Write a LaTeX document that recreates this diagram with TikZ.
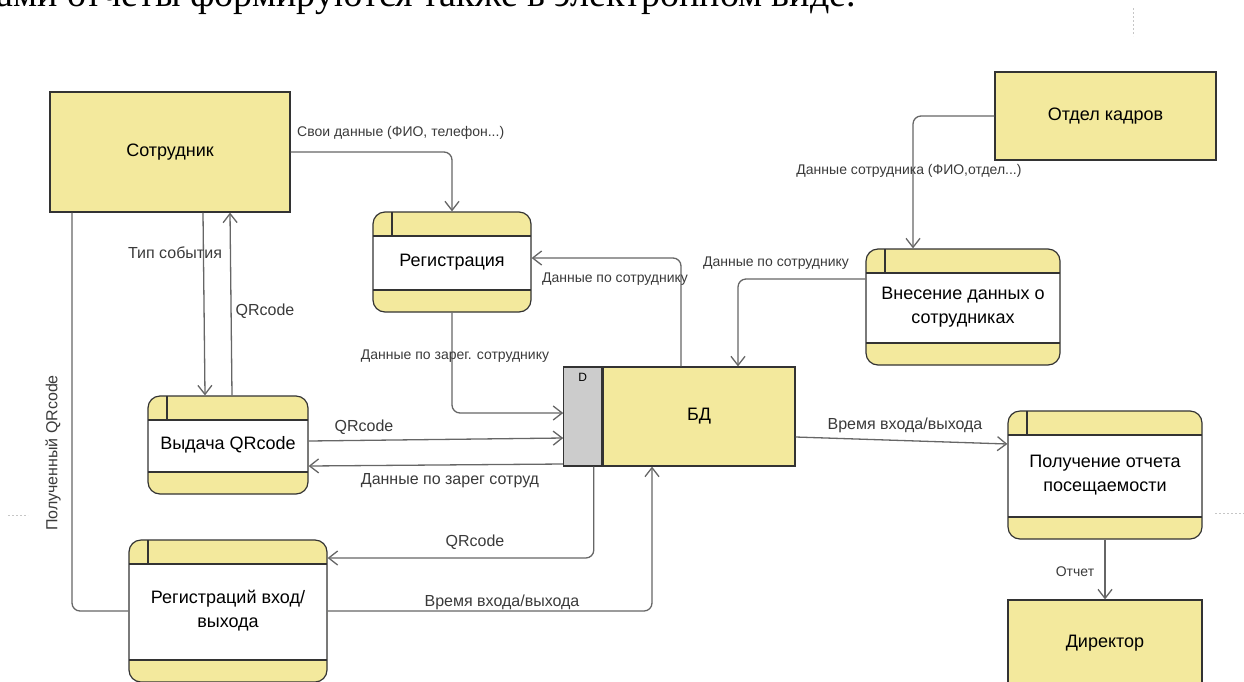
\documentclass[tikz,border=0pt]{standalone}
\usepackage{fontspec}
\setmainfont{Liberation Sans}
\newfontfamily\docserif{Liberation Serif}
\usepackage{tikz}
\usetikzlibrary{arrows.meta,positioning}
\definecolor{dfdfill}{HTML}{F3E99D}
\definecolor{dfdline}{HTML}{333333}
\definecolor{flowline}{HTML}{666666}
\definecolor{flowtext}{HTML}{3A3A3A}
\definecolor{storegray}{HTML}{CCCCCC}

\begin{document}
\begin{tikzpicture}[x=1pt, y=-1pt,
      entity/.style={draw=dfdline, fill=dfdfill, line width=1.2pt, inner sep=0pt, font=\fontsize{18}{24}\selectfont},
      proc/.style={draw=dfdline, fill=dfdfill, line width=1.2pt, rounded corners=12pt, inner sep=0pt, align=center, font=\fontsize{18}{24}\selectfont,
        path picture={
          \fill[white, sharp corners] ([yshift=-24pt]path picture bounding box.north west) rectangle ([yshift=22pt]path picture bounding box.south east);
          \draw[dfdline, line width=1.2pt, sharp corners] ([yshift=-24pt]path picture bounding box.north west) -- ([yshift=-24pt]path picture bounding box.north east)
            ([yshift=22pt]path picture bounding box.south west) -- ([yshift=22pt]path picture bounding box.south east)
            ([xshift=19pt]path picture bounding box.north west) -- ([xshift=19pt,yshift=-24pt]path picture bounding box.north west);
        }},
      arr/.style={flowline, line width=1.3pt, -{Straight Barb[length=9pt,width=14pt]}, rounded corners=8pt},
      flow/.style={flowline, line width=1.3pt, rounded corners=8pt},
      lbl/.style={text=flowtext, inner sep=0pt, font=\fontsize{14}{16}\selectfont},
      lblm/.style={lbl, font=\fontsize{16}{19}\selectfont},
      pagemark/.style={gray!45, line width=0.8pt, dash pattern=on 2pt off 2pt},
    ]
    \useasboundingbox (0,0) rectangle (1244,681);
    \node[font=\docserif\fontsize{38}{44}\selectfont, anchor=base east, inner sep=0pt] (topline) at (856,6) {ами отчеты формируются также в электронном виде.};
    \draw[pagemark] (1133,8) -- (1133,36);
    \draw[pagemark] (8,515) -- (28,515);
    \draw[pagemark] (1215,513) -- (1244,513);

    \node[entity, minimum width=240pt, minimum height=120pt] (sotr) at (170,152) {Сотрудник};
    \node[entity, minimum width=221pt, minimum height=88pt] (otd) at (1105.5,116) {Отдел кадров};
    \node[entity, minimum width=194pt, minimum height=86pt] (dir) at (1105,643) {Директор};
    \node[proc, minimum width=158pt, minimum height=100pt] (reg) at (452,262) {Регистрация};
    \node[proc, minimum width=194pt, minimum height=116pt] (vnes) at (963,307) {Внесение данных о\\сотрудниках};
    \node[proc, minimum width=160pt, minimum height=98pt] (vyd) at (228,445) {Выдача QRcode};
    \node[proc, minimum width=194pt, minimum height=128pt] (pol) at (1105,475) {Получение отчета\\посещаемости};
    \node[proc, minimum width=198pt, minimum height=142pt] (regvh) at (228,611) {Регистраций вход/\\выхода};
    \node[entity, minimum width=192pt, minimum height=99pt] (bd) at (699,416.5) {БД};
    \node[entity, fill=storegray, minimum width=38pt, minimum height=99pt, left=0pt of bd] (bdtag) {};
    \node[font=\fontsize{12}{14}\selectfont, anchor=north] (bdD) at ([yshift=-3pt]bdtag.north) {D};

    \draw[arr] (sotr.east) -| (reg.north);
    \draw[arr] ([xshift=33pt]sotr.south) -- ([xshift=-23pt]vyd.north);
    \draw[arr] ([xshift=4pt]vyd.north) -- ([xshift=60pt]sotr.south);
    \draw[flow] ([xshift=-98pt]sotr.south) |- (regvh.west);
    \draw[arr] (reg.south) |- ([yshift=3.5pt]bdtag.west);
    \draw[arr] ([yshift=4pt]vyd.east) -- ([yshift=-21.5pt]bdtag.west);
    \draw[arr] ([yshift=-47.5pt]bdtag.west) -- ([yshift=-21pt]vyd.east);
    \draw[arr] ([xshift=11pt]bdtag.south) |- ([yshift=53pt]regvh.east);
    \draw[arr] (regvh.east) -| ([xshift=-47pt]bd.south);
    \draw[arr] ([xshift=-18pt]bd.north) |- ([yshift=4pt]reg.east);
    \draw[arr] ([yshift=28pt]vnes.west) -| ([xshift=39pt]bd.north);
    \draw[arr] (otd.west) -| ([xshift=-50pt]vnes.north);
    \draw[arr] ([yshift=-20.5pt]bd.east) -- ([yshift=31pt]pol.west);
    \draw[arr] (pol.south) -- (dir.north);

    \node[lbl, anchor=west] (l-own) at (297,133) {Свои данные (ФИО, телефон...)};
    \node[lblm] (l-type) at (175,253) {Тип события};
    \node[lblm] (l-qr1) at (265,311) {QRcode};
    \node[lblm, rotate=90] (l-got) at (53,453) {Полученный QRcode};
    \node[lbl] (l-regd) at (455,356) {Данные по зарег. сотруднику};
    \node[lblm] (l-qr2) at (364,427) {QRcode};
    \node[lblm] (l-back) at (450,481) {Данные по зарег сотруд};
    \node[lblm] (l-qr3) at (475,542) {QRcode};
    \node[lblm] (l-time1) at (502,602) {Время входа/выхода};
    \node[lbl] (l-emp1) at (615,279) {Данные по сотруднику};
    \node[lbl] (l-emp2) at (776,263) {Данные по сотруднику};
    \node[lbl] (l-hr) at (909,171) {Данные сотрудника (ФИО,отдел...)};
    \node[lblm] (l-time2) at (905,425) {Время входа/выхода};
    \node[lbl] (l-rep) at (1075,572) {Отчет};
  \end{tikzpicture}
\end{document}
